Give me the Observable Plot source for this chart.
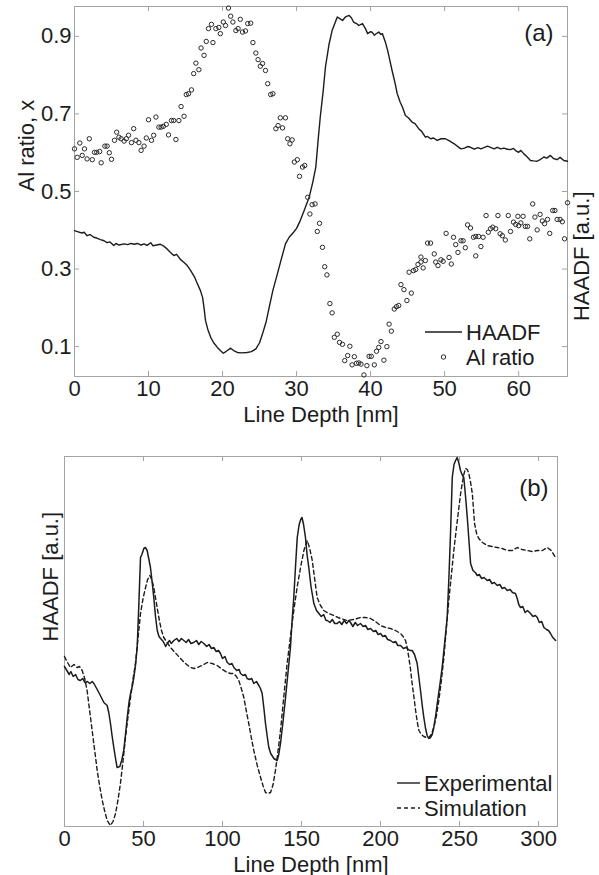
<!DOCTYPE html>
<html><head><meta charset="utf-8">
<script src="https://cdn.jsdelivr.net/npm/d3@7"></script>
<script src="https://cdn.jsdelivr.net/npm/@observablehq/plot@0.6"></script>
<style>
body{margin:0;background:#fff;}
#chart{width:599px;height:875px;position:relative;background:#fff;}
#chart svg{display:block;}
</style>
</head><body><div id="chart"></div>
<script>
// ---------- Panel (a) ----------
const aXTicks = [0, 10, 20, 30, 40, 50, 60];
const aYTicks = [0.1, 0.3, 0.5, 0.7, 0.9];
const aXLabel = "Line Depth [nm]";
const aYLabel = "Al ratio, x";
const aY2Label = "HAADF [a.u.]";
const aTag = "(a)";
const aLegend = ["HAADF", "Al ratio"];

// HAADF profile (a.u., read against the shared frame)
const haadfDepth = [0,0.5,1.0,1.3,1.7,2.1,2.6,3.0,3.5,4.0,4.4,4.8,5.3,5.6,6.0,6.7,7.2,7.6,8.1,8.5,9.0,9.4,9.8,10.3,10.6,11.1,11.6,12.0,12.5,12.9,13.4,13.8,14.3,14.8,15.2,15.7,16.2,16.6,17.0,17.3,17.5,17.7,18.0,18.4,18.8,19.3,19.7,20.1,20.5,21.1,21.5,22.0,22.6,23.3,23.9,24.5,25.0,25.4,25.9,26.3,26.8,27.4,28.0,28.5,29.0,29.6,30.0,30.5,31.0,31.7,32.2,32.6,32.9,33.2,33.6,33.9,34.4,34.8,35.2,35.5,35.9,36.2,36.6,37.1,37.4,37.7,38.1,38.4,38.9,39.3,39.6,40.0,40.2,40.5,40.7,41.1,41.4,41.6,42.0,42.3,42.6,42.9,43.3,43.6,44.0,44.3,44.7,45.1,45.6,46.0,46.5,46.9,47.4,47.7,48.1,48.5,49.0,49.5,50.1,50.6,51.3,51.7,52.2,52.7,53.1,53.5,54.0,54.5,54.9,55.3,55.8,56.2,56.7,57.1,57.6,58.0,58.5,58.9,59.3,59.7,60.0,60.3,60.7,61.1,61.6,62.0,62.5,62.9,63.4,63.8,64.3,64.7,65.2,65.6,66.1,66.6];
const haadfValue = [0.399,0.396,0.393,0.395,0.386,0.389,0.382,0.380,0.376,0.373,0.368,0.370,0.361,0.366,0.362,0.365,0.363,0.366,0.364,0.366,0.362,0.365,0.361,0.368,0.360,0.362,0.364,0.360,0.352,0.344,0.335,0.338,0.325,0.317,0.310,0.296,0.280,0.262,0.245,0.227,0.200,0.167,0.145,0.124,0.110,0.098,0.090,0.083,0.088,0.096,0.090,0.085,0.084,0.085,0.087,0.094,0.110,0.133,0.165,0.201,0.245,0.287,0.330,0.365,0.382,0.395,0.405,0.425,0.450,0.485,0.525,0.563,0.630,0.692,0.760,0.821,0.881,0.915,0.935,0.950,0.945,0.941,0.950,0.954,0.948,0.937,0.933,0.928,0.933,0.920,0.907,0.912,0.911,0.903,0.906,0.911,0.905,0.907,0.885,0.864,0.838,0.812,0.780,0.752,0.730,0.718,0.696,0.690,0.679,0.675,0.662,0.655,0.640,0.642,0.636,0.638,0.632,0.636,0.636,0.631,0.623,0.617,0.610,0.612,0.616,0.614,0.609,0.613,0.610,0.613,0.617,0.614,0.610,0.614,0.610,0.612,0.609,0.608,0.611,0.604,0.601,0.606,0.597,0.590,0.580,0.579,0.578,0.582,0.589,0.586,0.593,0.585,0.582,0.588,0.580,0.578];

// Al ratio points
const alDepth = [0.0,0.36,0.72,1.04,1.35,1.7,2.0,2.4,2.7,3.0,3.4,3.6,4.1,4.4,4.7,5.0,5.4,5.7,6.0,6.3,6.7,7.0,7.3,7.7,8.0,8.3,8.7,9.0,9.4,9.7,10.0,10.4,10.7,11.0,11.4,11.7,12.0,12.4,12.7,13.1,13.4,13.7,14.1,14.4,14.8,15.1,15.4,15.8,16.1,16.4,16.8,17.1,17.5,17.8,18.1,18.5,18.7,19.1,19.5,19.7,20.1,20.4,20.8,21.1,21.4,21.8,22.1,22.4,22.7,23.1,23.4,23.8,24.1,24.5,24.8,25.1,25.4,25.8,26.1,26.5,26.8,27.2,27.5,27.8,28.1,28.5,28.8,29.1,29.4,29.7,30.1,30.4,30.8,31.1,31.5,31.8,32.1,32.5,32.8,33.1,33.5,33.8,34.1,34.5,34.8,35.1,35.5,35.8,36.2,36.5,36.9,37.2,37.5,37.8,38.1,38.4,38.7,39.1,39.5,39.8,40.1,40.5,40.8,41.1,41.4,41.8,42.2,42.5,42.8,43.2,43.5,43.8,44.1,44.5,44.9,45.2,45.5,45.8,46.1,46.4,46.8,46.8,47.1,47.4,47.7,48.1,48.6,48.8,49.1,49.5,49.8,50.2,50.6,50.9,51.2,51.5,51.8,52.2,52.5,52.8,53.1,53.5,53.9,54.2,54.2,54.6,54.9,55.2,55.6,55.9,56.2,56.5,56.9,57.2,57.5,57.8,58.2,58.6,58.9,59.3,59.6,59.9,60.0,60.3,60.6,60.9,61.2,61.5,61.9,62.2,62.5,62.9,63.2,63.5,63.9,64.2,64.6,64.9,65.2,65.6,65.9,66.2,66.6];
const alRatio = [0.610,0.588,0.625,0.593,0.610,0.584,0.636,0.582,0.601,0.601,0.603,0.574,0.617,0.617,0.600,0.583,0.632,0.653,0.640,0.636,0.630,0.636,0.645,0.626,0.662,0.632,0.626,0.606,0.617,0.638,0.685,0.632,0.645,0.692,0.666,0.666,0.668,0.673,0.646,0.683,0.683,0.634,0.683,0.719,0.694,0.750,0.752,0.762,0.804,0.831,0.814,0.870,0.851,0.887,0.920,0.931,0.884,0.920,0.923,0.907,0.937,0.928,0.973,0.952,0.937,0.915,0.920,0.944,0.911,0.914,0.933,0.934,0.884,0.857,0.840,0.823,0.830,0.812,0.778,0.750,0.752,0.662,0.670,0.690,0.664,0.690,0.636,0.623,0.633,0.576,0.582,0.539,0.563,0.567,0.485,0.442,0.466,0.468,0.397,0.418,0.356,0.306,0.285,0.211,0.187,0.124,0.132,0.111,0.106,0.064,0.077,0.101,0.053,0.074,0.057,0.058,0.055,0.027,0.051,0.075,0.075,0.053,0.088,0.098,0.113,0.065,0.100,0.158,0.140,0.197,0.203,0.206,0.260,0.247,0.219,0.292,0.238,0.296,0.299,0.312,0.318,0.331,0.303,0.322,0.367,0.367,0.339,0.318,0.309,0.324,0.320,0.392,0.330,0.313,0.382,0.363,0.343,0.373,0.373,0.355,0.414,0.406,0.382,0.384,0.334,0.384,0.358,0.382,0.438,0.395,0.404,0.408,0.404,0.438,0.391,0.386,0.375,0.438,0.397,0.421,0.415,0.436,0.412,0.419,0.436,0.410,0.410,0.378,0.468,0.434,0.401,0.441,0.424,0.417,0.428,0.392,0.451,0.451,0.428,0.428,0.422,0.378,0.471];

// ---------- Panel (b) ----------
const bXTicks = [0, 50, 100, 150, 200, 250, 300];
const bXLabel = "Line Depth [nm]";
const bYLabel = "HAADF [a.u.]";
const bTag = "(b)";
const bLegend = ["Experimental", "Simulation"];

const expDepth = [0,1.5,3,4,5.5,7,8.5,10,11.5,13,14.5,16,17.5,18.6,20,21.7,23,24.9,27,28,29.1,30,31.2,32.3,33.3,35,36.2,37.5,38.6,39.7,40.8,41.8,43,43.9,45,46,47,48.1,49,50.2,51.2,52.3,53.3,54.4,55.5,56.5,57.6,58.7,59.8,60.8,62.5,64,65,66.5,67.5,69.2,71,72.5,74,75.5,77,78.5,80,81.8,83.5,85,86.5,88.2,90,91.5,93,94.5,96,97.5,98.7,100,101.5,103,104.5,106,107.2,109,110.5,111.4,113,114.5,115.6,117,118.5,119.8,121.5,123,124,125.1,126.2,127.2,128.3,129.3,130.5,132.5,134.6,135.6,136.7,138.3,139.9,141.5,143,144,145.1,146.2,147.3,148.5,149.5,150.3,151.3,152.5,153.5,154.6,156,157.8,159.5,161,162.5,164,165.5,166.3,168,169.5,171,172.6,174,175.5,177,178.5,180,181,182.5,184,185.5,187.3,189,190.5,192,193.7,195.5,197,198.5,200,201.5,203,204.5,206.3,208,209.5,211,212.7,214.5,216,216.9,218.5,220,221.5,223.2,224.2,225.3,226.4,227.4,228.5,229.5,230.5,231.6,232.7,233.7,235,235.9,237.5,239,240.6,242.2,243.3,244.3,245.4,246.5,247.5,248.5,249.5,250.6,251.6,252.7,253.8,254.9,256,257,258.5,260,261.2,262.5,264,265.5,267.5,269,270.5,272,273.9,275.5,277,278.5,280.2,282,283.5,285.4,286.5,287.5,288.6,290,291.5,293,294.9,296.5,298,299.2,300.5,302,303.4,305,306.3,307.6,309,310.8];
const expValue = [160,156,152,155,150,152,147,146,148,144,145,143,145,143,139,134,130,124,121,114,103,92,79,68,59,60,66,76,92,109,124,133,141,149,162,179,220,269,272,278,279,276,268,259,244,229,210,196,190,188,185,180,183,186,183,186,188,185,188,186,184,187,183,184,186,182,185,183,180,182,178,179,175,176,173,168,170,164,162,163,159,156,157,153,151,152,148,147,148,143,145,141,138,133,118,103,90,79,73,68,66,72,83,105,129,155,179,205,229,260,289,302,307,309,302,289,272,259,240,223,216,213,210,212,206,206,204,207,203,203,205,202,206,203,206,204,200,204,201,203,200,201,197,198,195,196,192,193,190,191,187,186,184,185,181,181,178,179,178,176,176,172,163,150,136,121,109,98,91,88,89,92,99,112,123,141,159,184,209,250,293,349,362,366,369,364,356,352,349,330,309,285,263,256,254,251,252,248,249,246,247,243,244,241,242,238,239,236,237,234,233,228,222,219,220,214,216,213,210,211,209,204,205,199,197,196,193,189,186];

const simDepth = [0,1.5,3.8,6,8,9.5,11.2,12.8,14.3,15.9,17.5,19.1,20.7,22.3,23.9,25.5,27,29.1,30.7,32.3,33.8,35.4,37,38.6,40.2,41.8,43.3,44.9,46.5,48.1,49.7,51.3,52.6,54,55.2,56.5,58.1,59.7,61.2,62.8,65,67.1,70,73.4,76.5,79.7,82,84,87,90.3,93.5,96.6,100,103,105,107.2,108.8,110.3,111.9,113.5,115,116.6,118.2,119.8,122,124.1,125.6,127.2,128.8,130.4,132,133.5,135.1,136.7,138.8,140.9,143,145.1,147.2,149.4,151.5,153.6,155.2,156.8,158.3,159.9,162,164.1,167.2,170.4,174.6,178.9,183,187.3,190.5,193.7,196.8,200,203.2,206.3,209.5,212.7,214.3,215.8,216.9,217.9,219,220,221.1,222.2,223.2,224.3,225.8,227.4,229,230.6,232.1,233.7,235.3,236.9,238.5,240.1,241.6,243.2,244.8,246.4,248,249.6,250.6,251.7,252.7,253.8,254.9,255.9,257,258.1,259.5,260.8,262.2,264.5,267.5,270.5,273.9,277,280.2,283.5,286.5,289.5,292.8,296,299.2,302.5,305.5,308,310.8];
const simValue = [170,165,159,162,159,160,156,148,136,116,96,76,56,40,26,15,6,1,5,13,26,43,65,89,110,129,147,163,188,213,228,239,247,251,247,239,224,209,197,189,184,179,174,168,163,159,158,159,161,164,163,161,157,154,153,153,150,146,138,129,116,103,89,76,61,49,41,34,33,34,42,56,75,96,130,163,190,216,239,259,276,286,278,266,248,229,221,216,213,211,208,206,207,209,209,208,205,201,199,198,196,193,190,186,179,169,157,143,130,116,105,96,92,90,89,89,92,99,110,126,146,169,197,226,251,276,298,319,332,343,352,358,357,353,344,333,303,293,288,284,281,280,279,278,276,276,279,277,276,275,276,276,279,276,269];

// ---------- drawing ----------
const FONT = "'Liberation Sans', Arial, Helvetica, sans-serif";
const INK = "#1c1c1c";
const FRAME = "#a3a3a3";
const FS = 22;

const haadfData = haadfDepth.map((x, i) => ({x, y: haadfValue[i]}));
const alData = alDepth.map((x, i) => ({x, y: alRatio[i]}));
const expData = expDepth.map((x, i) => ({x, y: expValue[i]}));
const simData = simDepth.map((x, i) => ({x, y: simValue[i]}));

const baseStyle = {fontFamily: FONT, fontSize: FS + "px", color: INK, background: "#fff", overflow: "visible"};

const plotA = Plot.plot({
  width: 599, height: 420,
  marginLeft: 74, marginRight: 32, marginTop: 6, marginBottom: 44,
  style: baseStyle,
  x: {domain: [0, 66.6], label: null},
  y: {domain: [0.023, 0.977], label: null},
  marks: [
    Plot.frame({stroke: FRAME}),
    Plot.gridX(aXTicks, {stroke: FRAME, strokeOpacity: 1, insetTop: 365}),
    Plot.gridX(aXTicks, {stroke: FRAME, strokeOpacity: 1, insetBottom: 365}),
    Plot.gridY(aYTicks, {stroke: FRAME, strokeOpacity: 1, insetRight: 488}),
    Plot.gridY(aYTicks, {stroke: FRAME, strokeOpacity: 1, insetLeft: 488}),
    Plot.axisX(aXTicks, {tickSize: 0, tickPadding: 4, label: null, fill: INK}),
    Plot.axisY(aYTicks, {tickSize: 0, tickPadding: 3, tickFormat: d3.format(".1f"), label: null, fill: INK}),
    Plot.line(haadfData, {x: "x", y: "y", stroke: INK, strokeWidth: 1.4}),
    Plot.dot(alData, {x: "x", y: "y", r: 2.2, stroke: "#2a2a2a", strokeWidth: 1, fill: "none"}),
    Plot.text([aTag], {text: d => d, frameAnchor: "top-right", dx: -14, dy: 27, textAnchor: "end", lineAnchor: "middle", fontSize: 24, fill: INK}),
    Plot.text([aXLabel], {text: d => d, frameAnchor: "bottom", dy: 38, lineAnchor: "middle", fill: INK}),
    Plot.text([aYLabel], {text: d => d, frameAnchor: "left", dx: -48, rotate: -90, lineAnchor: "middle", fill: INK}),
    Plot.text([aY2Label], {text: d => d, frameAnchor: "right", dx: 14, rotate: -90, lineAnchor: "middle", fill: INK})
  ]
});

const plotB = Plot.plot({
  width: 599, height: 455,
  marginLeft: 64, marginRight: 42, marginTop: 36, marginBottom: 49,
  style: baseStyle,
  x: {domain: [0, 312], label: null},
  y: {domain: [0, 370], label: null, axis: null},
  marks: [
    Plot.frame({stroke: FRAME}),
    Plot.gridX(bXTicks, {stroke: FRAME, strokeOpacity: 1, insetTop: 365}),
    Plot.gridX(bXTicks, {stroke: FRAME, strokeOpacity: 1, insetBottom: 365}),
    Plot.axisX(bXTicks, {tickSize: 0, tickPadding: 4, label: null, fill: INK}),
    Plot.line(simData, {x: "x", y: "y", stroke: INK, strokeWidth: 1.4, strokeDasharray: "4,3"}),
    Plot.line(expData, {x: "x", y: "y", stroke: INK, strokeWidth: 1.5}),
    Plot.text([bTag], {text: d => d, frameAnchor: "top-right", dx: -9, dy: 32, textAnchor: "end", lineAnchor: "middle", fontSize: 24, fill: INK}),
    Plot.text([bXLabel], {text: d => d, frameAnchor: "bottom", dy: 38, lineAnchor: "middle", fill: INK}),
    Plot.text([bYLabel], {text: d => d, frameAnchor: "left", dx: -14, rotate: -90, lineAnchor: "middle", fill: INK})
  ]
});

// legends
function legend(svg, items) {
  const g = d3.select(svg).append("g").attr("font-family", FONT).attr("font-size", FS)
    .attr("fill", INK).attr("text-anchor", "start");
  items.forEach(it => {
    if (it.kind === "line" || it.kind === "dash") {
      g.append("line").attr("x1", it.x1).attr("x2", it.x2).attr("y1", it.y).attr("y2", it.y)
        .attr("stroke", INK).attr("stroke-width", 1.4)
        .attr("stroke-dasharray", it.kind === "dash" ? "4,3" : null);
    } else {
      g.append("circle").attr("cx", (it.x1 + it.x2) / 2).attr("cy", it.y).attr("r", 2.2)
        .attr("fill", "none").attr("stroke", "#2a2a2a").attr("stroke-width", 1);
    }
    g.append("text").attr("x", it.tx).attr("y", it.y).attr("dy", "0.36em").text(it.label);
  });
}
legend(plotA, [
  {kind: "line", x1: 425, x2: 462, y: 332, tx: 466, label: aLegend[0]},
  {kind: "dot", x1: 425, x2: 462, y: 357, tx: 466, label: aLegend[1]}
]);
legend(plotB, [
  {kind: "line", x1: 397, x2: 420, y: 363, tx: 424, label: bLegend[0]},
  {kind: "dash", x1: 397, x2: 420, y: 388, tx: 424, label: bLegend[1]}
]);

const root = document.getElementById("chart");
root.appendChild(plotA);
root.appendChild(plotB);
</script></body></html>
